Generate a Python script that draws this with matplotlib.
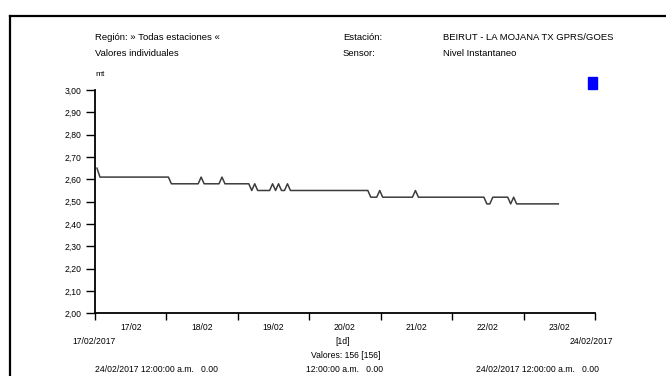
import datetime as dt

import matplotlib

matplotlib.use("Agg")
import matplotlib.pyplot as plt
from matplotlib.lines import Line2D
from matplotlib.patches import Rectangle

W, H = 666, 376

# hourly readings start at 00:40; only the hours where the level changes are listed
start = dt.datetime(2017, 2, 17, 0, 40)
hours = [0, 1, 24, 25, 34, 35, 36, 41, 42, 43, 51, 52, 53, 54, 58, 59, 60, 61,
         62, 63, 64, 65, 91, 92, 94, 95, 96, 106, 107, 108, 130, 131, 132, 133,
         138, 139, 140, 141, 155]
levels = [2.65, 2.61, 2.61, 2.58, 2.58, 2.61, 2.58, 2.58, 2.61, 2.58, 2.58,
          2.55, 2.58, 2.55, 2.55, 2.58, 2.55, 2.58, 2.55, 2.55, 2.58, 2.55,
          2.55, 2.52, 2.52, 2.55, 2.52, 2.52, 2.55, 2.52, 2.52, 2.49, 2.49,
          2.52, 2.52, 2.49, 2.52, 2.49, 2.49]
y_ticks = [2.00, 2.10, 2.20, 2.30, 2.40, 2.50, 2.60, 2.70, 2.80, 2.90, 3.00]
day_labels = ["17/02", "18/02", "19/02", "20/02", "21/02", "22/02", "23/02"]

FONT = ["Liberation Sans Narrow", "Liberation Sans", "DejaVu Sans"]
plt.rcParams["font.family"] = FONT
FS_HEAD = 6.8
FS = 6.2


def px(x, y):
    return x / W, 1 - y / H


fig = plt.figure(figsize=(W / 100, H / 100), dpi=100)
ax = fig.add_axes([95 / W, 1 - 313.3 / H, 500 / W, 223.3 / H])

times = [start + dt.timedelta(hours=h) for h in hours]
ax.plot(times, levels, color="#3c3c3c", lw=1.1)

ax.set_ylim(2.0, 3.0)
ax.set_yticks(y_ticks)
ax.set_yticklabels([f"{v:.2f}".replace(".", ",") for v in y_ticks])

day0 = dt.datetime(2017, 2, 17)
ax.set_xlim(day0, day0 + dt.timedelta(days=7))
ax.set_xticks([day0 + dt.timedelta(days=i) for i in range(8)])
ax.set_xticklabels([])
ax.set_xticks([day0 + dt.timedelta(days=i, hours=12) for i in range(7)], minor=True)
ax.set_xticklabels(day_labels, minor=True)
ax.tick_params(axis="x", which="minor", length=0, pad=7, labelsize=FS)
ax.tick_params(axis="x", which="major", length=5, width=1, direction="out")
ax.tick_params(axis="y", length=6.5, width=1, pad=3.5, labelsize=FS)

for side in ("top", "right"):
    ax.spines[side].set_visible(False)
for side in ("left", "bottom"):
    ax.spines[side].set_linewidth(1.3)

# page frame
fig.add_artist(Line2D([9.5 / W, 9.5 / W], [0, 1 - 16 / H], color="black", lw=1.6))
fig.add_artist(Line2D([9.5 / W, 1], [1 - 16 / H, 1 - 16 / H], color="black", lw=1.6))

# header
fig.text(*px(95, 38), "Región: » Todas estaciones «", fontsize=FS_HEAD, va="center")
fig.text(*px(95, 54), "Valores individuales", fontsize=FS_HEAD, va="center")
fig.text(*px(343, 38), "Estación:", fontsize=FS_HEAD, va="center")
fig.text(*px(343, 54), "Sensor:", fontsize=FS_HEAD, va="center")
fig.text(*px(443, 38), "BEIRUT - LA MOJANA TX GPRS/GOES", fontsize=FS_HEAD, va="center")
fig.text(*px(443, 54), "Nivel Instantaneo", fontsize=FS_HEAD, va="center")
fig.text(*px(95, 75), "mt", fontsize=6, va="center")
fig.add_artist(Rectangle(px(588, 89), 9 / W, 12 / H, color="#0000ff"))

# footer
fig.text(*px(94, 341), "17/02/2017", fontsize=FS, ha="center", va="center")
fig.text(*px(591, 341), "24/02/2017", fontsize=FS, ha="center", va="center")
fig.text(*px(343, 341), "[1d]", fontsize=FS, ha="center", va="center")
fig.text(*px(346, 355), "Valores: 156 [156]", fontsize=FS, ha="center", va="center")
fig.text(*px(95, 369), "24/02/2017 12:00:00 a.m.   0.00", fontsize=FS, va="center")
fig.text(*px(306, 369), "12:00:00 a.m.   0.00", fontsize=FS, va="center")
fig.text(*px(476, 369), "24/02/2017 12:00:00 a.m.   0.00", fontsize=FS, va="center")

fig.savefig("out.png", dpi=100)
